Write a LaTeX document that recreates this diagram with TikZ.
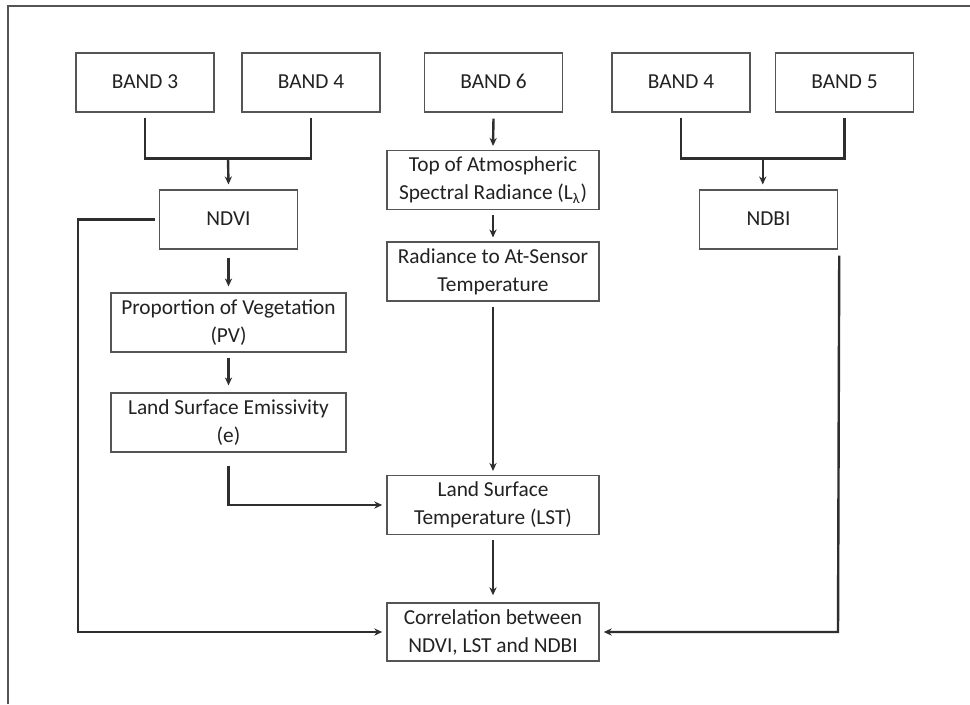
\documentclass[tikz,border=0pt]{standalone}
\usepackage{fontspec}
\setmainfont{Carlito}
\usetikzlibrary{arrows.meta,calc,positioning}
\definecolor{flowink}{HTML}{222222}
\definecolor{flowline}{HTML}{2E2E2E}
\definecolor{flowbox}{HTML}{555555}

\begin{document}
\begin{tikzpicture}[x=0.75pt,y=-0.75pt,>={Stealth[length=6pt,width=5.4pt]},
  line join=miter,font=\fontsize{16}{21}\selectfont,text=flowink,
  box/.style={draw=flowbox,line width=1.1pt,fill=white,align=center,inner sep=0pt,
    minimum height=44pt},
  band/.style={box,minimum width=103.5pt},
  mid/.style={box,minimum width=159pt},
  wide/.style={box,minimum width=176pt},
  link/.style={draw=flowline,line width=1.8pt}]
\path[use as bounding box] (0,0) rectangle (970,704);
\fill[white] (0,0) rectangle (970,704);
\draw[flowbox,line width=0.9pt] (8,704)--(8,6)--(970,6);

% bands
\node[band] (b3) at (145,82.5) {BAND 3\strut};
\node[band] (b4a) at (311,82.5) {BAND 4\strut};
\node[band] (b6) at (493.5,82.5) {BAND 6\strut};
\node[band] (b4b) at (681,82.5) {BAND 4\strut};
\node[band] (b5) at (844.5,82.5) {BAND 5\strut};

% indices
\node[band] (ndvi) at (228.5,219.5) {NDVI\strut};
\node[band] (ndbi) at (768.5,219.5) {NDBI\strut};

% thermal chain
\node[mid] (toa) at (493,180) {Top of Atmospheric\\ Spectral Radiance (L\textsubscript{λ})};
\node[mid] (rad) at (493,271.5) {Radiance to At-Sensor\\Temperature};
\node[wide] (pv) at (228.5,322.5) {Proportion of Vegetation\\(PV)};
\node[wide] (lse) at (228.5,422.5) {Land Surface Emissivity\\(e)};
\node[mid] (lst) at (493,505) {Land Surface\\Temperature (LST)};
\node[mid,minimum height=43.5pt] (corr) at (493,632) {Correlation between\\NDVI, LST and NDBI};

% joins and rails
\coordinate (ndvijoin) at ($(b3.south)!.5!(b4a.south)+(0,46)$);
\coordinate (ndbijoin) at ($(b4b.south)!.5!(b5.south)+(0,46)$);
\coordinate (leftrail) at (78,632);
\coordinate (rightrail) at (838,632);

\draw[link] ($(b3.south)+(0,5)$) |- ($(b4a.south)+(0,46)$) -- ($(b4a.south)+(0,5)$);
\draw[link,->] (ndvijoin) -- ($(ndvi.north)+(0,-5)$);
\draw[link] ($(b4b.south)+(0,5)$) |- ($(b5.south)+(0,46)$) -- ($(b5.south)+(0,5)$);
\draw[link,->] (ndbijoin) -- ($(ndbijoin |- ndbi.north)+(0,-5)$);

\draw[link,->] ($(b6.south)+(0,6)$) -- ($(toa.north)+(0,-4)$);
\draw[link,->] ($(toa.south)+(0,5)$) -- ($(rad.north)+(0,-4)$);
\draw[link,->] ($(rad.south)+(0,5)$) -- ($(lst.north)+(0,-4)$);
\draw[link,->] ($(lst.south)+(0,5)$) -- ($(corr.north)+(0,-7)$);

\draw[link,->] ($(ndvi.south)+(0,8)$) -- ($(pv.north)+(0,-6)$);
\draw[link,->] ($(pv.south)+(0,5)$) -- ($(lse.north)+(0,-7)$);
\draw[link,->] ($(lse.south)+(0,13)$) |- ($(lst.west)+(-4,0)$);

\draw[link,->] ($(ndvi.west)+(-4,0)$) -| (leftrail) -- ($(corr.west)+(-4,0)$);
\draw[link,->] ($(ndbi.south east)+(1,6)$) -- (rightrail) -- ($(corr.east)+(4,0)$);
\end{tikzpicture}
\end{document}
